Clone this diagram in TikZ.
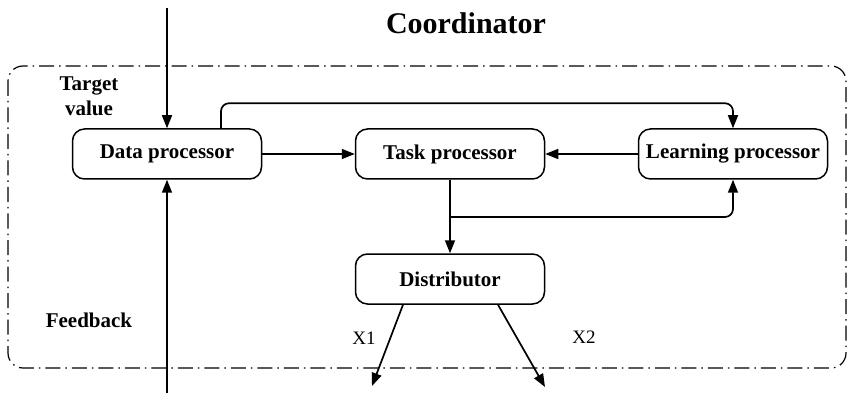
\documentclass[tikz,border=0pt]{standalone}
\usepackage{fontspec}
\setmainfont{Liberation Serif}
\usetikzlibrary{positioning, arrows.meta}

\begin{document}
\begin{tikzpicture}[
    x=1pt, y=-1pt,
    every node/.style={font=\fontsize{21}{25}\selectfont\bfseries},
    box/.style={draw, line width=1.5pt, rounded corners=12pt, minimum width=189pt, minimum height=50pt, inner sep=0pt},
    lbl/.style={align=center},
    outlbl/.style={font=\fontsize{19}{22}\selectfont},
    arrow/.style={-{Triangle[length=13pt, width=10pt]}, line width=1.7pt},
    frame/.style={line width=1.2pt, rounded corners=15pt, dash pattern=on 15pt off 5pt on 1.5pt off 5pt}
]
\useasboundingbox (0,0) rectangle (852,393);

% Outer frame and title
\draw[frame] (8,66) rectangle (846,368);
\node[font=\fontsize{30}{34}\selectfont\bfseries] (title) at (466,23) {Coordinator};

% Processing blocks
\node[box] (data)  at (167,154) {Data processor};
\node[box] (task)  at (450,154) {Task processor};
\node[box] (learn) at (733,154) {Learning processor};
\node[box] (dist)  at (450,279) {Distributor};

% Side labels
\node[lbl] (target)   at (89,96)  {Target\\value};
\node[lbl] (feedback) at (89,320) {Feedback};
\node[outlbl] (xone)  at (364,338) {X1};
\node[outlbl] (xtwo)  at (584,337) {X2};

% Free ends
\coordinate (tin)   at (167,8);
\coordinate (fin)   at (167,393);
\coordinate (split) at (450,217);
\coordinate (xoneend) at (372,386);
\coordinate (xtwoend) at (545,387);

% Connectors
\draw[arrow] (tin) -- (data);
\draw[arrow] (fin) -- (data);
\draw[arrow] (data) -- (task);
\draw[arrow] (learn) -- (task);
\draw[arrow, rounded corners=8pt] ([xshift=54pt]data.north) |- ([yshift=25pt]learn.north) -- (learn.north);
\draw[arrow] (task) -- (dist);
\draw[arrow, rounded corners=8pt] (split) -| (learn.south);
\draw[arrow] ([xshift=-47pt]dist.south) -- (xoneend);
\draw[arrow] ([xshift=48pt]dist.south) -- (xtwoend);

\end{tikzpicture}
\end{document}
